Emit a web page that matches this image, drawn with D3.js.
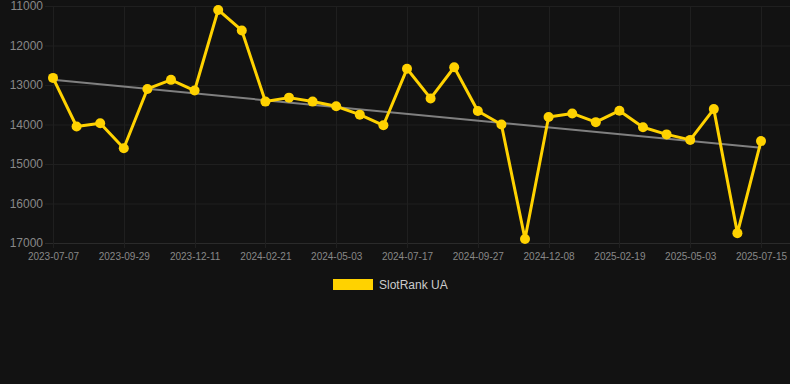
<!DOCTYPE html>
<html><head><meta charset="utf-8">
<script src="https://cdn.jsdelivr.net/npm/d3@7"></script>
<style>
html,body{margin:0;padding:0;background:#121212;}
svg{display:block;font-family:Arial,"Liberation Sans",sans-serif;}
</style></head>
<body><svg id="c" width="790" height="384"></svg>
<script>
const dates = ["2023-07-07","2023-08-04","2023-09-01","2023-09-29","2023-10-23","2023-11-17","2023-12-11","2024-01-04","2024-01-28","2024-02-21","2024-03-15","2024-04-09","2024-05-03","2024-05-28","2024-06-22","2024-07-17","2024-08-10","2024-09-03","2024-09-27","2024-10-21","2024-11-14","2024-12-08","2025-01-01","2025-01-25","2025-02-19","2025-03-15","2025-04-08","2025-05-03","2025-05-27","2025-06-20","2025-07-15"];
const ranks = [12820,14050,13970,14600,13100,12870,13140,11100,11620,13420,13320,13420,13540,13750,14020,12590,13340,12550,13660,14000,16900,13810,13720,13940,13650,14070,14250,14390,13610,16750,14420];
const trend = [12870,14590];
const yTicks = [11000,12000,13000,14000,15000,16000,17000];
const seriesName = "SlotRank UA";

const svg = d3.select("#c");
const pLeft = 45, pRight = 790, pTop = 6, pBottom = 243;
const x = d3.scalePoint().domain(dates).range([53, 761]);
const y = d3.scaleLinear().domain([11000,17000]).range([pTop, pBottom]);

const grid = svg.append("g");
grid.selectAll("line.h").data(yTicks).join("line")
  .attr("x1", pLeft).attr("x2", pRight)
  .attr("y1", d=>y(d)+0.5).attr("y2", d=>y(d)+0.5)
  .attr("stroke", d=> d===17000 ? "#2a2a2a" : "#1f1f1f").attr("stroke-width",1);
const shown = dates.filter((d,i)=>i%3===0);
grid.selectAll("line.v").data(shown).join("line")
  .attr("x1", d=>Math.round(x(d))+0.5).attr("x2", d=>Math.round(x(d))+0.5)
  .attr("y1", pTop).attr("y2", pBottom+5)
  .attr("stroke","#1f1f1f").attr("stroke-width",1);

const yAxis = d3.axisLeft(y).tickValues(yTicks).tickSize(0).tickPadding(0).tickFormat(d3.format("d"));
const ya = svg.append("g").attr("transform","translate(43,0)").call(yAxis);
ya.select(".domain").remove();
ya.selectAll("text").attr("fill","#888").attr("font-size","12px").attr("font-family","Arial,'Liberation Sans',sans-serif");

const xAxis = d3.axisBottom(x).tickValues(shown).tickSize(0).tickPadding(0);
const xa = svg.append("g").attr("transform",`translate(0,${pBottom+10})`).call(xAxis);
xa.select(".domain").remove();
xa.selectAll("text").attr("fill","#888").attr("font-size","10px").attr("font-family","Arial,'Liberation Sans',sans-serif").attr("dy","0.71em");

svg.append("line")
  .attr("x1", x(dates[0])).attr("y1", y(trend[0]))
  .attr("x2", x(dates[dates.length-1])).attr("y2", y(trend[1]))
  .attr("stroke","#808080").attr("stroke-width",2);

const line = d3.line().x((d,i)=>x(dates[i])).y(d=>y(d));
svg.append("path").datum(ranks).attr("d",line)
  .attr("fill","none").attr("stroke","#FFD200").attr("stroke-width",3).attr("stroke-linejoin","round");
svg.selectAll("circle.p").data(ranks).join("circle")
  .attr("cx",(d,i)=>x(dates[i])).attr("cy",d=>y(d)).attr("r",5)
  .attr("fill","#FFD200");

const lg = svg.append("g");
lg.append("rect").attr("x",333).attr("y",279).attr("width",40).attr("height",11).attr("fill","#FFD200");
lg.append("text").attr("x",379).attr("y",289).attr("fill","#ccc").attr("font-size","12px").text(seriesName);
</script></body></html>
